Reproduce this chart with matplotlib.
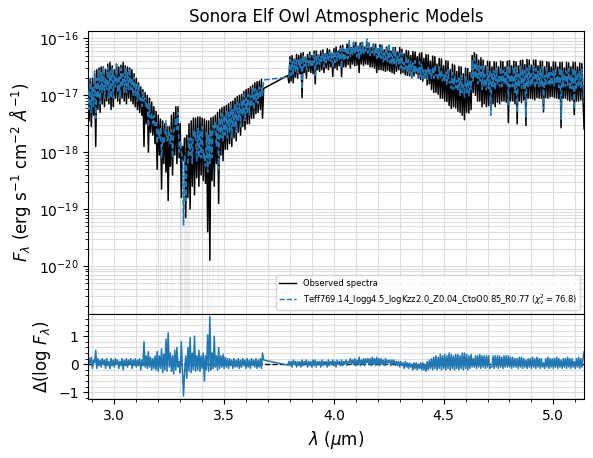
import matplotlib
matplotlib.use("Agg")
import matplotlib.pyplot as plt
import numpy as np
from matplotlib.ticker import MultipleLocator

# ---------------- data ----------------
wavelength = [
    2.880, 2.885, 2.890, 2.895, 2.900, 2.905, 2.910, 2.915, 2.920, 2.925,
    2.930, 2.935, 2.940, 2.945, 2.950, 2.955, 2.960, 2.965, 2.970, 2.975,
    2.980, 2.985, 2.990, 2.995, 3.000, 3.005, 3.010, 3.015, 3.020, 3.025,
    3.030, 3.035, 3.040, 3.045, 3.050, 3.055, 3.060, 3.065, 3.070, 3.075,
    3.080, 3.085, 3.090, 3.095, 3.100, 3.105, 3.110, 3.115, 3.120, 3.125,
    3.130, 3.135, 3.140, 3.145, 3.150, 3.155, 3.160, 3.165, 3.170, 3.175,
    3.180, 3.185, 3.190, 3.195, 3.200, 3.205, 3.210, 3.215, 3.220, 3.225,
    3.230, 3.235, 3.240, 3.245, 3.250, 3.255, 3.260, 3.265, 3.270, 3.275,
    3.280, 3.285, 3.290, 3.295, 3.300, 3.305, 3.310, 3.315, 3.320, 3.325,
    3.330, 3.335, 3.340, 3.345, 3.350, 3.355, 3.360, 3.365, 3.370, 3.375,
    3.380, 3.385, 3.390, 3.395, 3.400, 3.405, 3.410, 3.415, 3.420, 3.425,
    3.430, 3.435, 3.440, 3.445, 3.450, 3.455, 3.460, 3.465, 3.470, 3.475,
    3.480, 3.485, 3.490, 3.495, 3.500, 3.505, 3.510, 3.515, 3.520, 3.525,
    3.530, 3.535, 3.540, 3.545, 3.550, 3.555, 3.560, 3.565, 3.570, 3.575,
    3.580, 3.585, 3.590, 3.595, 3.600, 3.605, 3.610, 3.615, 3.620, 3.625,
    3.630, 3.635, 3.640, 3.645, 3.650, 3.655, 3.660, 3.665, 3.670, 3.675,
    3.680,
    3.790, 3.795, 3.800, 3.805, 3.810, 3.815, 3.820, 3.825, 3.830, 3.835,
    3.840, 3.845, 3.850, 3.855, 3.860, 3.865, 3.870, 3.875, 3.880, 3.885,
    3.890, 3.895, 3.900, 3.905, 3.910, 3.915, 3.920, 3.925, 3.930, 3.935,
    3.940, 3.945, 3.950, 3.955, 3.960, 3.965, 3.970, 3.975, 3.980, 3.985,
    3.990, 3.995, 4.000, 4.005, 4.010, 4.015, 4.020, 4.025, 4.030, 4.035,
    4.040, 4.045, 4.050, 4.055, 4.060, 4.065, 4.070, 4.075, 4.080, 4.085,
    4.090, 4.095, 4.100, 4.105, 4.110, 4.115, 4.120, 4.125, 4.130, 4.135,
    4.140, 4.145, 4.150, 4.155, 4.160, 4.165, 4.170, 4.175, 4.180, 4.185,
    4.190, 4.195, 4.200, 4.205, 4.210, 4.215, 4.220, 4.225, 4.230, 4.235,
    4.240, 4.245, 4.250, 4.255, 4.260, 4.265, 4.270, 4.275, 4.280, 4.285,
    4.290, 4.295, 4.300, 4.305, 4.310, 4.315, 4.320, 4.325, 4.330, 4.335,
    4.340, 4.345, 4.350, 4.355, 4.360, 4.365, 4.370, 4.375, 4.380, 4.385,
    4.390, 4.395, 4.400, 4.405, 4.410, 4.415, 4.420, 4.425, 4.430, 4.435,
    4.440, 4.445, 4.450, 4.455, 4.460, 4.465, 4.470, 4.475, 4.480, 4.485,
    4.490, 4.495, 4.500, 4.505, 4.510, 4.515, 4.520, 4.525, 4.530, 4.535,
    4.540, 4.545, 4.550, 4.555, 4.560, 4.565, 4.570, 4.575, 4.580, 4.585,
    4.590, 4.595, 4.600, 4.605, 4.610, 4.615, 4.620, 4.625, 4.630, 4.635,
    4.640, 4.645, 4.650, 4.655, 4.660, 4.665, 4.670, 4.675, 4.680, 4.685,
    4.690, 4.695, 4.700, 4.705, 4.710, 4.715, 4.720, 4.725, 4.730, 4.735,
    4.740, 4.745, 4.750, 4.755, 4.760, 4.765, 4.770, 4.775, 4.780, 4.785,
    4.790, 4.795, 4.800, 4.805, 4.810, 4.815, 4.820, 4.825, 4.830, 4.835,
    4.840, 4.845, 4.850, 4.855, 4.860, 4.865, 4.870, 4.875, 4.880, 4.885,
    4.890, 4.895, 4.900, 4.905, 4.910, 4.915, 4.920, 4.925, 4.930, 4.935,
    4.940, 4.945, 4.950, 4.955, 4.960, 4.965, 4.970, 4.975, 4.980, 4.985,
    4.990, 4.995, 5.000, 5.005, 5.010, 5.015, 5.020, 5.025, 5.030, 5.035,
    5.040, 5.045, 5.050, 5.055, 5.060, 5.065, 5.070, 5.075, 5.080, 5.085,
    5.090, 5.095, 5.100, 5.105, 5.110, 5.115, 5.120, 5.125, 5.130, 5.135,
    5.140,
]

# log10 of observed flux (erg s^-1 cm^-2 A^-1)
log_obs = [
    -16.85, -17.45, -16.75, -17.55, -16.70, -17.35, -16.62, -17.90, -16.55, -17.25,
    -16.52, -17.30, -16.50, -17.15, -16.50, -17.20, -16.55, -17.10, -16.45, -17.15,
    -16.42, -17.25, -16.48, -17.20, -16.55, -17.05, -16.45, -17.10, -16.50, -17.15,
    -16.47, -17.05, -16.42, -17.10, -16.48, -17.15, -16.50, -17.05, -16.52, -17.10,
    -16.55, -17.15, -16.62, -17.20, -16.70, -17.25, -16.78, -17.30, -16.85, -17.35,
    -16.90, -17.90, -16.95, -17.50, -17.00, -18.00, -17.05, -17.65, -17.12, -17.70,
    -17.20, -17.85, -17.28, -18.30, -17.35, -18.05, -17.42, -18.65, -17.45, -18.20,
    -17.50, -18.35, -17.55, -18.85, -17.55, -18.25, -17.35, -18.40, -17.30, -18.05,
    -17.20, -18.20, -17.20, -18.10, -17.50, -18.80, -17.90, -18.15, -17.75, -19.15,
    -17.70, -18.80, -17.50, -19.00, -17.45, -18.60, -17.40, -18.75, -17.40, -18.45,
    -17.38, -18.60, -17.38, -18.40, -17.40, -18.50, -17.42, -18.55, -17.45, -19.40,
    -17.45, -19.90, -17.40, -18.50, -17.38, -18.60, -17.35, -18.20, -17.30, -18.90,
    -17.25, -18.05, -17.22, -18.15, -17.20, -17.95, -17.18, -17.95, -17.15, -17.85,
    -17.12, -17.90, -17.10, -17.75, -17.05, -17.80, -17.02, -17.65, -17.00, -17.70,
    -16.98, -17.55, -16.93, -17.60, -16.90, -17.50, -16.88, -17.50, -16.85, -17.40,
    -16.82, -17.40, -16.78, -17.32, -16.76, -17.30, -16.75, -17.25, -16.72, -17.40,
    -16.88,
    -16.65, -16.78, -16.32, -16.75, -16.30, -16.78, -16.36, -16.68, -16.28, -16.70,
    -16.30, -16.62, -16.26, -17.04, -16.25, -16.60, -16.33, -16.70, -16.28, -16.58,
    -16.24, -16.60, -16.30, -16.62, -16.22, -16.80, -16.22, -16.55, -16.29, -16.58,
    -16.22, -16.55, -16.20, -16.60, -16.27, -16.52, -16.18, -16.55, -16.20, -16.50,
    -16.26, -16.67, -16.18, -16.52, -16.15, -16.55, -16.22, -16.48, -16.13, -16.67,
    -16.12, -16.50, -16.19, -16.50, -16.10, -16.46, -16.09, -16.52, -16.16, -16.45,
    -16.07, -16.48, -16.07, -16.47, -16.14, -16.60, -16.08, -16.45, -16.07, -16.48,
    -16.15, -16.45, -16.06, -16.46, -16.08, -16.50, -16.16, -16.50, -16.10, -16.52,
    -16.10, -16.60, -16.18, -16.55, -16.11, -16.55, -16.12, -16.56, -16.20, -16.58,
    -16.15, -16.56, -16.14, -16.58, -16.22, -16.60, -16.16, -16.62, -16.16, -16.58,
    -16.24, -16.55, -16.16, -16.62, -16.19, -16.60, -16.27, -16.64, -16.21, -16.65,
    -16.22, -16.66, -16.30, -16.69, -16.23, -16.66, -16.24, -16.62, -16.32, -16.70,
    -16.26, -16.72, -16.25, -16.75, -16.35, -16.70, -16.28, -16.82, -16.29, -16.80,
    -16.40, -16.90, -16.31, -16.95, -16.32, -16.95, -16.45, -16.98, -16.35, -17.05,
    -16.36, -17.05, -16.48, -17.10, -16.39, -17.11, -16.40, -17.18, -16.55, -17.23,
    -16.45, -17.20, -16.47, -17.22, -16.58, -17.28, -16.49, -17.30, -16.50, -17.35,
    -16.62, -17.43, -16.52, -17.30, -16.53, -17.31, -16.60, -17.25, -16.30, -16.95,
    -16.25, -17.00, -16.28, -17.10, -16.38, -17.10, -16.34, -17.20, -16.38, -17.15,
    -16.48, -17.20, -16.40, -17.18, -16.41, -17.25, -16.50, -17.15, -16.41, -17.20,
    -16.42, -17.12, -16.50, -17.15, -16.40, -17.10, -16.41, -17.10, -16.50, -17.12,
    -16.40, -17.48, -16.39, -17.10, -16.48, -17.10, -16.40, -17.15, -16.41, -17.50,
    -16.48, -17.10, -16.39, -17.13, -16.38, -17.08, -16.46, -17.53, -16.37, -17.05,
    -16.38, -17.05, -16.47, -17.06, -16.38, -17.08, -16.38, -17.04, -16.48, -17.05,
    -16.40, -17.05, -16.40, -17.29, -16.50, -17.04, -16.41, -17.05, -16.42, -17.03,
    -16.50, -17.02, -16.41, -17.04, -16.42, -17.05, -16.50, -17.06, -16.42, -17.57,
    -16.42, -17.05, -16.52, -17.05, -16.42, -17.08, -16.43, -17.10, -16.50, -17.08,
    -16.42, -17.34, -16.42, -17.10, -16.50, -17.10, -16.43, -17.08, -16.44, -17.05,
    -17.59,
]

# residual Delta(log F) = log F_model - log F_obs
residual = [
    -0.05, 0.20, 0.05, 0.25, -0.15, 0.15, 0.05, 0.50, -0.15, 0.20,
    -0.05, 0.15, -0.10, 0.20, 0.00, 0.15, -0.15, 0.20, -0.05, 0.10,
    -0.15, 0.20, -0.05, 0.15, -0.10, 0.20, 0.00, 0.15, -0.15, 0.10,
    -0.05, 0.20, -0.20, 0.15, -0.05, 0.20, -0.10, 0.15, 0.00, 0.20,
    -0.15, 0.15, -0.05, 0.20, -0.10, 0.15, -0.05, 0.20, -0.20, 0.15,
    -0.05, 0.80, -0.10, 0.30, -0.15, 0.45, -0.10, 0.25, -0.20, 0.20,
    -0.15, 0.30, -0.20, 0.45, -0.25, 0.30, -0.15, 0.55, -0.30, 0.35,
    -0.20, 0.90, -0.25, 1.12, -0.10, 0.40, -0.25, 0.30, -0.35, 0.50,
    -0.20, 0.60, -0.10, 0.10, -0.30, 0.80, -0.20, -1.13, -0.30, 0.30,
    -0.50, 0.60, -0.25, 0.95, -0.30, 0.40, -0.20, 1.00, -0.25, 0.30,
    -0.20, 0.50, -0.25, 0.30, -0.15, 0.40, -0.60, 0.30, -0.20, 1.05,
    -0.25, 1.70, -0.20, 0.40, -0.15, 1.00, -0.10, 0.30, -0.20, 0.60,
    -0.15, 0.30, -0.10, 0.35, -0.15, 0.25, -0.10, 0.20, -0.15, 0.20,
    -0.05, 0.15, -0.15, 0.20, -0.10, 0.15, -0.10, 0.20, -0.15, 0.15,
    -0.10, 0.20, -0.05, 0.15, -0.15, 0.20, -0.10, 0.15, -0.15, 0.20,
    -0.05, 0.15, -0.10, 0.20, -0.15, 0.15, -0.10, 0.20, -0.15, 0.40,
    0.15,
    -0.03, 0.10, -0.05, 0.10, -0.10, 0.15, 0.00, 0.10, -0.10, 0.10,
    -0.05, 0.10, -0.10, 0.15, -0.05, 0.10, 0.00, 0.15, -0.10, 0.10,
    -0.05, 0.10, -0.10, 0.15, -0.05, 0.15, -0.10, 0.10, 0.00, 0.10,
    -0.10, 0.15, -0.05, 0.10, 0.00, 0.10, -0.10, 0.15, -0.05, 0.10,
    0.00, 0.15, -0.05, 0.10, -0.10, 0.15, 0.00, 0.10, -0.05, 0.15,
    -0.05, 0.10, 0.00, 0.15, -0.05, 0.10, 0.05, 0.20, 0.00, 0.15,
    0.00, 0.20, -0.05, 0.15, 0.00, 0.25, -0.05, 0.15, 0.00, 0.20,
    -0.05, 0.20, 0.05, 0.20, 0.00, 0.20, -0.05, 0.25, 0.00, 0.20,
    -0.05, 0.25, 0.00, 0.20, -0.05, 0.20, 0.00, 0.15, -0.05, 0.20,
    0.00, 0.15, 0.05, 0.15, -0.05, 0.15, 0.00, 0.15, -0.05, 0.10,
    -0.05, 0.10, -0.10, 0.10, -0.05, 0.05, -0.15, 0.10, -0.10, 0.05,
    -0.15, 0.05, -0.10, 0.00, -0.20, 0.05, -0.15, 0.05, -0.20, 0.00,
    -0.15, 0.05, -0.20, 0.05, -0.20, 0.00, -0.25, 0.10, -0.20, 0.15,
    -0.15, 0.20, -0.20, 0.25, -0.15, 0.30, -0.20, 0.25, -0.15, 0.35,
    -0.20, 0.30, -0.15, 0.35, -0.20, 0.30, -0.15, 0.40, -0.20, 0.35,
    -0.15, 0.30, -0.20, 0.35, -0.15, 0.35, -0.20, 0.30, -0.15, 0.40,
    -0.20, 0.40, -0.15, 0.35, -0.20, 0.30, -0.15, 0.35, -0.10, 0.20,
    -0.10, 0.30, -0.15, 0.30, -0.10, 0.35, -0.15, 0.30, -0.10, 0.30,
    -0.15, 0.30, -0.10, 0.30, -0.15, -0.10, -0.10, 0.30, -0.15, 0.30,
    -0.10, 0.30, -0.15, 0.30, -0.10, 0.25, -0.15, 0.30, -0.10, 0.30,
    -0.10, 0.30, -0.10, 0.25, -0.15, 0.25, -0.10, 0.20, -0.10, 0.20,
    -0.15, 0.25, -0.10, 0.25, -0.15, 0.20, -0.10, 0.15, -0.15, 0.20,
    -0.10, 0.20, -0.15, 0.25, -0.10, 0.20, -0.15, 0.25, -0.10, 0.20,
    -0.15, 0.20, -0.10, 0.05, -0.15, 0.20, -0.10, 0.25, -0.15, 0.20,
    -0.10, 0.20, -0.15, 0.20, -0.10, 0.25, -0.15, 0.20, -0.10, 0.15,
    -0.15, 0.20, -0.10, 0.20, -0.15, 0.25, -0.10, 0.20, -0.15, 0.20,
    -0.10, 0.10, -0.15, 0.20, -0.10, 0.25, -0.15, 0.20, -0.10, 0.20,
    0.45,
]

# faint uncertainty lines reaching the bottom of the log axis
err_wavelength = [3.19, 3.21, 3.23, 3.24, 3.26, 3.30, 3.305, 3.31, 3.315, 3.32,
                  3.325, 3.33, 3.335, 3.34, 3.36, 3.38, 3.40, 3.42, 3.43, 3.45, 3.47]
err_log_top = [-18.3, -18.6, -18.3, -18.8, -18.4, -18.8, -18.9, -18.2, -18.6, -19.1,
               -19.0, -18.5, -18.8, -19.0, -18.7, -18.6, -18.5, -19.4, -19.9, -18.6, -18.9]

model_label = r"Teff769.14_logg4.5_logKzz2.0_Z0.04_CtoO0.85_R0.77 ($\chi^2_\nu = 76.8$)"

assert len(wavelength) == len(log_obs) == len(residual)

# ---------------- plotting ----------------
lam = np.array(wavelength)
obs = 10.0 ** np.array(log_obs)
res = np.array(residual)
model = 10.0 ** (np.array(log_obs) + res)

fig = plt.figure(figsize=(5.93, 4.58), dpi=100)
gs = fig.add_gridspec(2, 1, height_ratios=[3.33, 1], hspace=0,
                      left=0.149, right=0.985, top=0.933, bottom=0.128)
ax = fig.add_subplot(gs[0])
ax2 = fig.add_subplot(gs[1], sharex=ax)

grid_kw = dict(color="#dddddd", lw=0.8)

ax.vlines(err_wavelength, 1e-23, 10.0 ** np.array(err_log_top),
          color="grey", alpha=0.15, lw=0.6, zorder=1)
ax.plot(lam, obs, color="black", lw=1.1, label="Observed spectra", zorder=2)
ax.plot(lam, model, color="#1f77b4", ls="--", lw=1.1,
        label=model_label, zorder=3)
ax.set_yscale("log")
ax.set_ylim(10 ** -20.85, 10 ** -15.863)
ax.set_xlim(2.8815, 5.14)
ax.grid(True, which="both", **grid_kw)
ax.set_axisbelow(True)
ax.set_ylabel(r"$F_\lambda$ (erg s$^{-1}$ cm$^{-2}$ $Å^{-1}$)", fontsize=12)
ax.set_title("Sonora Elf Owl Atmospheric Models", fontsize=12)
ax.tick_params(axis="x", labelbottom=False)
leg = ax.legend(loc="lower right", fontsize=6)
for h in leg.get_lines():
    h.set_linewidth(1.0)

ax2.axhline(0, color="black", ls="--", lw=1.0, zorder=1)
ax2.plot(lam, res, color="#1f77b4", lw=1.1, zorder=2)
ax2.set_ylim(-1.25, 1.78)
ax2.yaxis.set_major_locator(MultipleLocator(1))
ax2.yaxis.set_minor_locator(MultipleLocator(0.2))
ax2.xaxis.set_major_locator(MultipleLocator(0.5))
ax2.xaxis.set_minor_locator(MultipleLocator(0.1))
ax2.grid(True, which="both", **grid_kw)
ax2.set_axisbelow(True)
ax2.set_ylabel(r"$\Delta(\log\,F_\lambda)$", fontsize=12)
ax2.set_xlabel(r"$\lambda$ ($\mu$m)", fontsize=12)

fig.savefig("out.png", dpi=100)
